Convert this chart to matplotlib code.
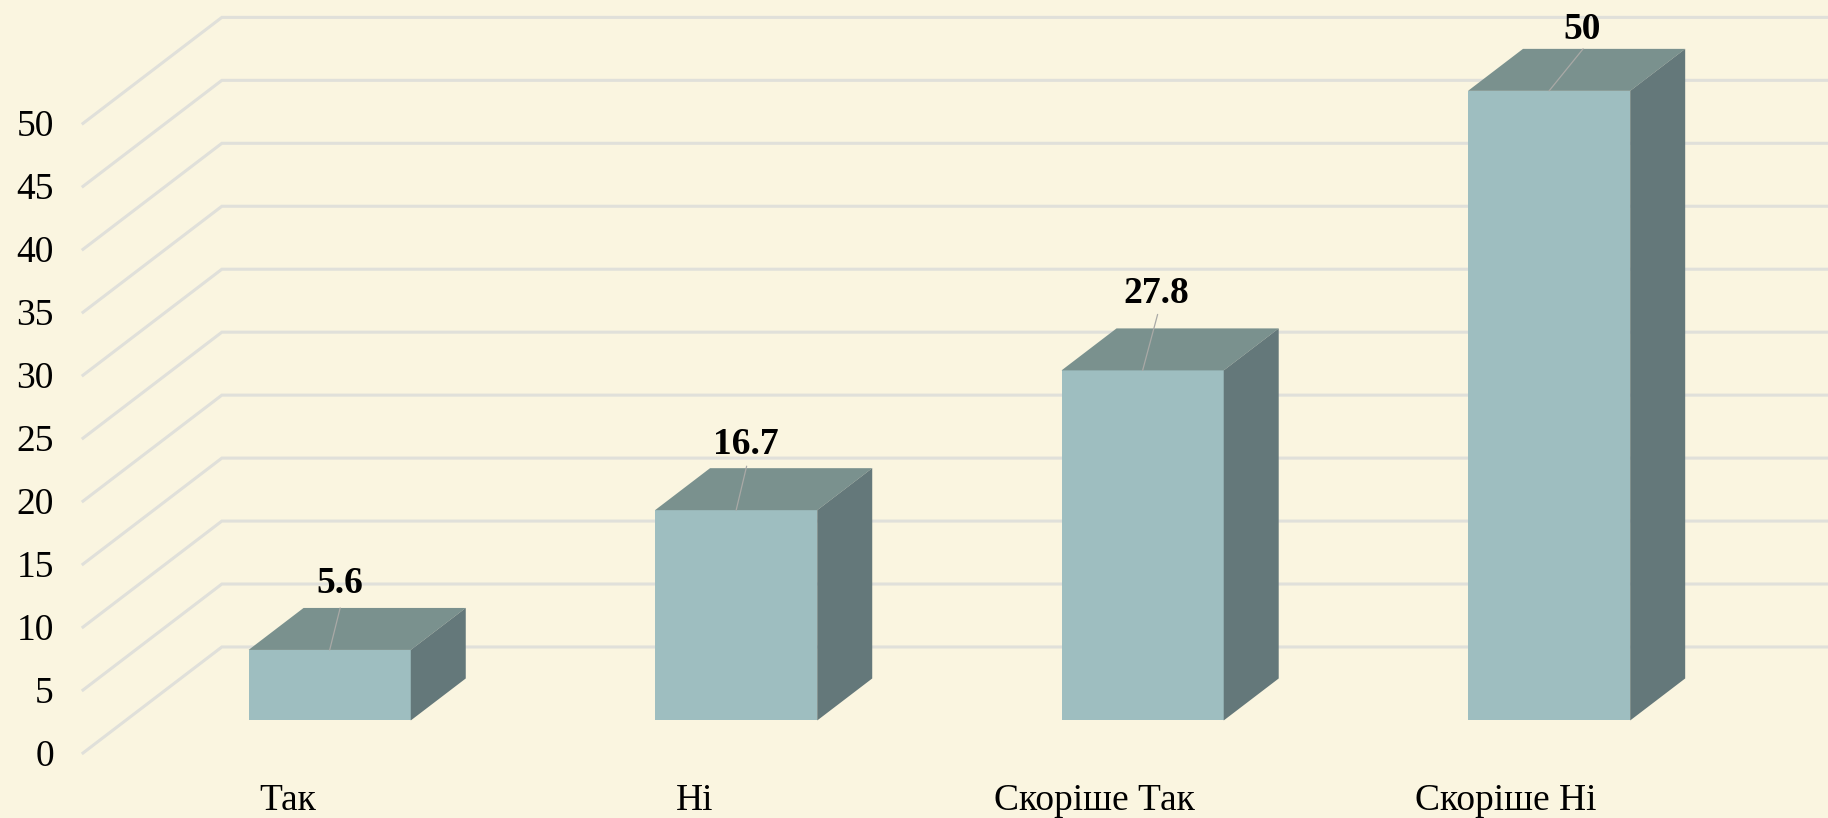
import matplotlib
matplotlib.use("Agg")
import matplotlib.pyplot as plt
from matplotlib.patches import Polygon
from matplotlib.transforms import ScaledTranslation

categories = ["Так", "Ні", "Скоріше Так", "Скоріше Ні"]
values = [5.6, 16.7, 27.8, 50]
value_labels = ["5.6", "16.7", "27.8", "50"]
y_ticks = [0, 5, 10, 15, 20, 25, 30, 35, 40, 45, 50]

# label / leader offsets from the front top edge of each bar, in pixels
label_dx = [10.5, 9.5, 14, 33]
label_dy = [66.5, 65.5, 76.5, 61.5]
leader_dx = [10.5, 10.5, 15, 34]
leader_dy = [42, 44, 56, 42]
# small horizontal nudges of the category labels, in pixels
cat_dx = [1, 1, -6, -1]

BG = "#FAF5E0"
FRONT = "#9EBEC0"
TOP = "#7A918E"
SIDE = "#64787A"
GRID = "#E0E0DA"
LEADER = "#A9A9A6"

W, H = 1828, 818
DPI = 100

# oblique projection: full floor depth in data units
DEPTH_X = 0.3416
DEPTH_Y = 8.42
BAR_D0, BAR_D1 = 0.307, 0.703
BAR_W = 0.399


def project(c, v, d):
    return c + DEPTH_X * d, v + DEPTH_Y * d


plt.rcParams["font.family"] = ["Liberation Serif", "DejaVu Serif"]
fig = plt.figure(figsize=(W / DPI, H / DPI), dpi=DPI, facecolor=BG)
ax = fig.add_axes([83 / W, (H - 753) / H, (W - 83) / W, 753 / H], facecolor=BG)
ax.set_xlim(-0.502, 3.791)
ax.set_ylim(0, 59.8)

for s in ax.spines.values():
    s.set_visible(False)

# gridlines: side wall then back wall
x_left, x_right = ax.get_xlim()
for t in y_ticks:
    bx, by = project(x_left, t, 1)
    ax.plot([x_left, bx, x_right], [t, by, by], color=GRID, lw=2.2, zorder=1,
            solid_joinstyle="miter", clip_on=False)

# bars
for i, v in enumerate(values):
    lx = i - BAR_W / 2
    rx = i + BAR_W / 2
    fx, fy = project(i, 0, BAR_D0)
    ax.bar(fx, v, width=BAR_W, bottom=fy, color=FRONT, zorder=3)
    top = [project(lx, v, BAR_D0), project(rx, v, BAR_D0),
           project(rx, v, BAR_D1), project(lx, v, BAR_D1)]
    side = [project(rx, 0, BAR_D0), project(rx, v, BAR_D0),
            project(rx, v, BAR_D1), project(rx, 0, BAR_D1)]
    ax.add_patch(Polygon(top, closed=True, facecolor=TOP, edgecolor="none", zorder=3))
    ax.add_patch(Polygon(side, closed=True, facecolor=SIDE, edgecolor="none", zorder=3))

    # data label with its leader line
    tx, ty = project(i, v, BAR_D0)
    ax.annotate("", xy=(tx, ty), xytext=(leader_dx[i] * 72 / DPI, leader_dy[i] * 72 / DPI),
                textcoords="offset points",
                arrowprops=dict(arrowstyle="-", color=LEADER, lw=0.9, shrinkA=0, shrinkB=0),
                zorder=4)
    ax.annotate(value_labels[i], xy=(tx, ty),
                xytext=(label_dx[i] * 72 / DPI, label_dy[i] * 72 / DPI),
                textcoords="offset points", ha="center", va="center",
                fontsize=27, fontweight="bold", color="black", zorder=5)

ax.set_yticks(y_ticks)
ax.set_xticks(range(len(categories)))
ax.set_xticklabels(categories)
ax.tick_params(axis="y", length=0, pad=21, labelsize=27, labelcolor="black")
ax.tick_params(axis="x", length=0, pad=22, labelsize=27, labelcolor="black")

# nudge tick labels onto the reference positions
for lab in ax.get_yticklabels():
    lab.set_transform(lab.get_transform() + ScaledTranslation(0, 0.6 / DPI, fig.dpi_scale_trans))
for lab, dx in zip(ax.get_xticklabels(), cat_dx):
    lab.set_transform(lab.get_transform() + ScaledTranslation(dx / DPI, 0, fig.dpi_scale_trans))

fig.savefig("out.png", dpi=DPI, facecolor=BG)
